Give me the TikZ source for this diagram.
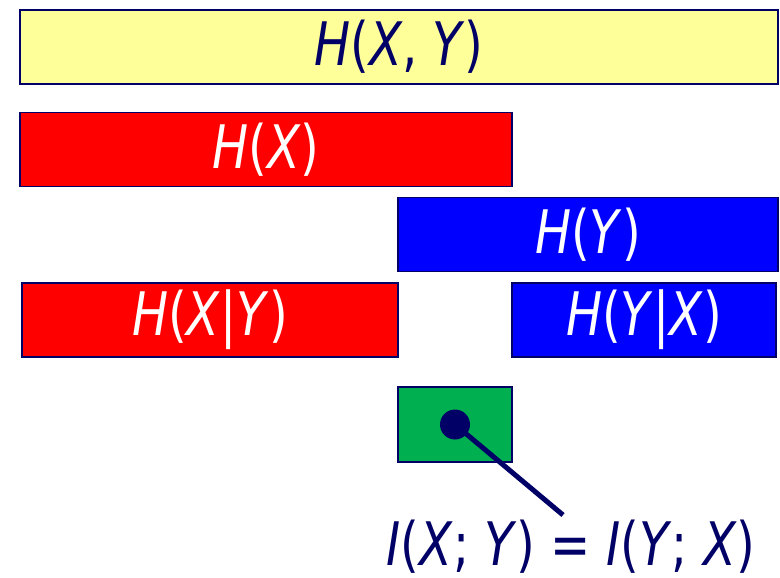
\documentclass[tikz,border=0pt]{standalone}
\usepackage{fontspec}
\setmainfont[FakeStretch=0.8]{DejaVu Sans}
\usepackage{tikz}
\usetikzlibrary{positioning}
\definecolor{navy}{HTML}{000066}
\definecolor{ylw}{HTML}{FFFF99}
\definecolor{rd}{HTML}{FF0000}
\definecolor{bl}{HTML}{0000FF}
\definecolor{gr}{HTML}{00B050}
\newcommand{\vv}[1]{\textit{#1}}
\tikzset{
  bar/.style={draw=navy,line width=1.2pt,inner sep=0pt,minimum height=74pt,text=white,font=\fontsize{60}{66}\selectfont},
  ybar/.style={bar,fill=ylw,text=navy},
  rbar/.style={bar,fill=rd},
  bbar/.style={bar,fill=bl},
  gbar/.style={bar,fill=gr},
  dot/.style={circle,fill=navy,inner sep=0pt,minimum size=30pt},
  ln/.style={line width=5pt,draw=navy},
}
\begin{document}
\begin{tikzpicture}[x=1pt,y=-1pt]
  \useasboundingbox (0,0) rectangle (780,578);
  \node[ybar,minimum width=758pt] (hxy) at (399,47) {\vv{H}(\vv{X}, \vv{Y})};
  \node[rbar,minimum width=492pt] (hx) at (266,149.5) {\vv{H}(\vv{X})};
  \node[bbar,minimum width=380pt] (hy) at (588,234.5) {\vv{H}(\vv{Y})};
  \node[rbar,minimum width=376pt] (hxgy) at (210,320) {\vv{H}(\vv{X}|\vv{Y})};
  \node[bbar,minimum width=264pt] (hygx) at (644,320) {\vv{H}(\vv{Y}|\vv{X})};
  \node[gbar,minimum width=114pt,minimum height=75pt] (mi) at (455,424.5) {};
  \node[dot] (d) at (mi.center) {};
  \coordinate (tip) at (563,515);
  \draw[ln] (d.center) -- (tip);
  \node[anchor=base,inner sep=0pt,text=navy,font=\fontsize{60}{66}\selectfont] (lbl) at (571,565)
    {\vv{I}(\vv{X}; \vv{Y}) = \vv{I}(\vv{Y}; \vv{X})};
\end{tikzpicture}
\end{document}
